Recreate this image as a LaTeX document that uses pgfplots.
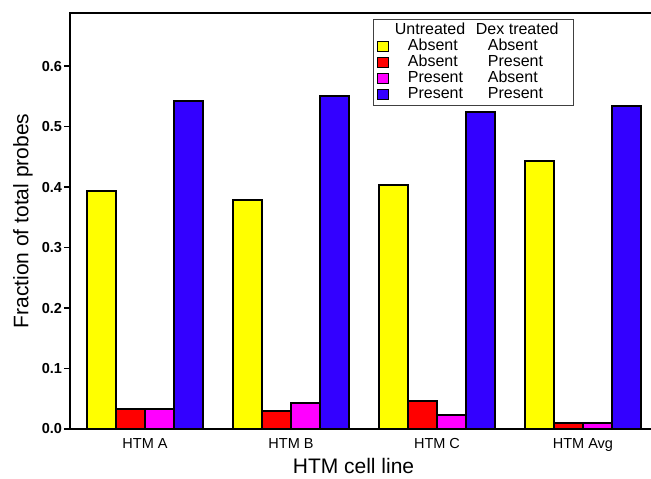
\documentclass[border=0pt]{standalone}
\usepackage{fontspec}
\setmainfont{Liberation Sans}
\usepackage{pgfplots}
\pgfplotsset{compat=1.18}

\definecolor{cAA}{RGB}{255,255,0}
\definecolor{cAP}{RGB}{255,0,0}
\definecolor{cPA}{RGB}{255,0,255}
\definecolor{cPP}{RGB}{51,0,255}

\pgfplotsset{
  sq/.style={legend image code/.code={%
    \draw[fill=#1, draw=black, line width=1.2pt] (0pt,-5pt) rectangle (11pt,5pt);}},
}

\begin{document}
\begin{tikzpicture}
\begin{axis}[
  name=ax,
  scale only axis, width=581pt, height=416pt,
  xmin=-0.514, xmax=3.466, ymin=0, ymax=0.688,
  clip=false,
  axis x line*=bottom, axis y line*=left,
  axis line style={line width=2.4pt, -},
  ybar, bar width=0.2,
  xtick={0,1,2,3},
  xticklabels={HTM A, HTM B, HTM C, HTM Avg},
  x tick style={draw=none},
  ytick={0,0.1,0.2,0.3,0.4,0.5,0.6},
  y tick style={line width=1.6pt, black},
  tick align=outside, major tick length=6pt,
  /pgf/number format/assume math mode=true,
  yticklabel style={font=\fontsize{14.5}{16}\selectfont\bfseries, xshift=1.5pt},
  y tick label style={/pgf/number format/fixed, /pgf/number format/fixed zerofill, /pgf/number format/precision=1},
  xticklabel style={font=\fontsize{14.5}{16}\selectfont},
  xlabel={HTM cell line},
  ylabel={Fraction of total probes},
  xlabel style={font=\fontsize{21}{23}\selectfont, at={(axis description cs:0.488,0)}, anchor=center, yshift=-37pt},
  ylabel style={font=\fontsize{21}{23}\selectfont, at={(axis description cs:0,0.5)}, anchor=center, yshift=47pt},
  legend cell align=left,
  legend style={at={(0.522,0.985)}, anchor=north west,
    draw=black!75, line width=0.9pt,
    font=\fontsize{16}{17}\selectfont,
    inner xsep=3pt, inner ysep=3pt, row sep=0pt,
    nodes={inner sep=0pt, text height=12pt, text depth=4pt},
    /tikz/every odd column/.append style={column sep=19pt}},
]
\addlegendimage{empty legend}
\addlegendentry{\hspace*{-13pt}\makebox[81pt][l]{Untreated}Dex treated\hspace*{12pt}}

\addplot[fill=cAA, draw=black, line width=2pt, bar shift=-0.3, sq=cAA]
  coordinates {(0,0.394) (1,0.379) (2,0.404) (3,0.444)};
\addlegendentry{\makebox[80pt][l]{Absent}Absent}

\addplot[fill=cAP, draw=black, line width=2pt, bar shift=-0.1, sq=cAP]
  coordinates {(0,0.033) (1,0.030) (2,0.046) (3,0.0105)};
\addlegendentry{\makebox[80pt][l]{Absent}Present}

\addplot[fill=cPA, draw=black, line width=2pt, bar shift=0.1, sq=cPA]
  coordinates {(0,0.033) (1,0.0435) (2,0.0227) (3,0.0105)};
\addlegendentry{\makebox[80pt][l]{Present}Absent}

\addplot[fill=cPP, draw=black, line width=2pt, bar shift=0.3, sq=cPP]
  coordinates {(0,0.543) (1,0.551) (2,0.525) (3,0.535)};
\addlegendentry{\makebox[80pt][l]{Present}Present}

% top frame line (no right-hand frame)
\draw[line width=2.4pt, line cap=rect] (rel axis cs:0,1) -- (rel axis cs:1,1);
\end{axis}
\pgfresetboundingbox
\path ([xshift=-70pt,yshift=-50pt]ax.south west) rectangle ([yshift=13pt]ax.north east);
\end{tikzpicture}
\end{document}
